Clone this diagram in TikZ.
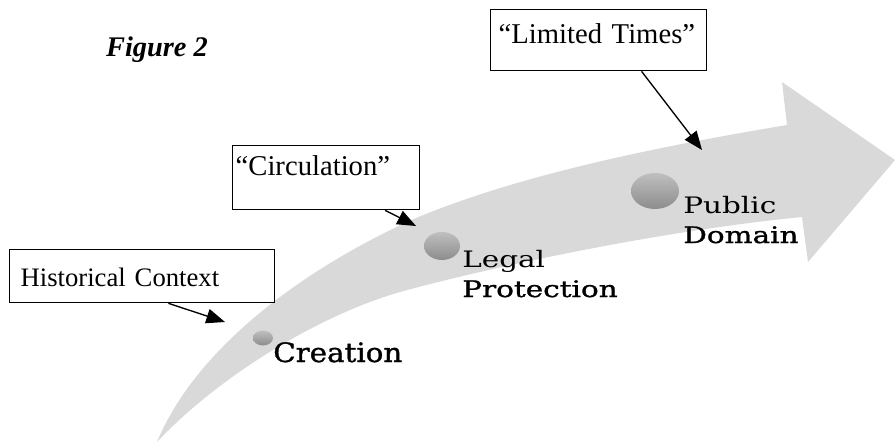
\documentclass[tikz,border=0pt]{standalone}
\usepackage{fontspec}
\setmainfont{Liberation Serif}
\newfontfamily\stagefont{DejaVu Serif}[FakeStretch=1.3]
\newfontfamily\stagefontb{DejaVu Serif}[FakeStretch=1.3,FakeBold=1.2]
\newfontfamily\createfont{DejaVu Serif}[FakeStretch=1.1,FakeBold=1.2]
\usetikzlibrary{arrows.meta}
\definecolor{bandgray}{RGB}{217,217,217}

\begin{document}
\begin{tikzpicture}[x=0.75pt,y=0.75pt,yscale=-1,xscale=1,
	tag/.style={draw, line width=1pt, anchor=north west, align=left, inner ysep=0pt, font=\fontsize{21.5}{25}\selectfont},
	conn/.style={line width=1pt, -{Triangle[length=14pt,width=11pt]}},
	stage/.style={anchor=base west, inner sep=0pt, align=left, font=\stagefont\fontsize{17}{22.3}\selectfont},
	blob/.style={top color=gray!50, bottom color=gray!90}]
	\useasboundingbox (0,0) rectangle (895,442);

	%Curved Arrow [band]
	\fill[bandgray] (157,442) .. controls (195,350) and (300,270) .. (416,218) .. controls (520,175) and (650,148) .. (787,125) -- (782,82) -- (895,160) -- (808,262) -- (802,217) .. controls (650,232) and (480,270) .. (400,292) .. controls (320,315) and (220,375) .. (157,442) -- cycle ;

	%Ellipses [dots]
	\shade[blob] (263,338) ellipse [x radius=10, y radius=7.5] ;
	\shade[blob] (442,246) ellipse [x radius=18, y radius=14] ;
	\shade[blob] (655,191) ellipse [x radius=24, y radius=18] ;

	% Text Node
	\node[stage] (creation) at (273,362) {\createfont\fontsize{20}{24}\selectfont Creation};
	% Text Node
	\node[stage] (legal) at (462,297) {Legal\\\stagefontb Protection};
	% Text Node
	\node[stage] (public) at (683,243) {Public\\\stagefontb Domain};

	% Text Node
	\node[font=\bfseries\itshape\fontsize{21.3}{25}\selectfont, anchor=base] (fig) at (157,57) {Figure 2};
	% Text Node
	\node[tag, text width=150pt, inner xsep=6pt, text height=25.5pt, text depth=20.25pt] (limited) at (490,9) {“Limited Times”};
	% Text Node
	\node[tag, text width=135.75pt, inner xsep=2.25pt, text height=22.5pt, text depth=25.5pt] (circ) at (232,145) {“Circulation”};
	% Text Node
	\node[tag, font=\fontsize{20}{24}\selectfont, text width=182.25pt, inner xsep=8.25pt, text height=27.75pt, text depth=12pt] (hist) at (9,249) {Historical Context};

	%Straight Lines [arrows]
	\coordinate (limitedTip) at (702,150);
	\coordinate (circTip) at (416,226);
	\coordinate (histTip) at (225,322);
	\draw[conn] (limited.-36) -- (limitedTip) ;
	\draw[conn] (circ.-29) -- (circTip) ;
	\draw[conn] (hist.-46) -- (histTip) ;
\end{tikzpicture}
\end{document}
